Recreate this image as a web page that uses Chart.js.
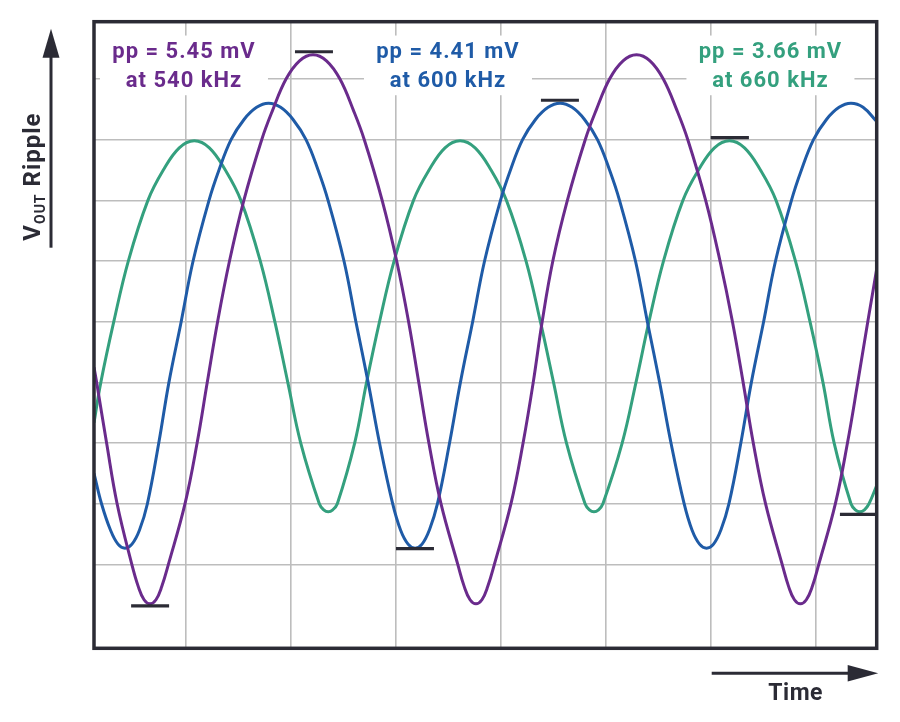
<!DOCTYPE html>
<html>
<head>
<meta charset="utf-8">
<title>VOUT ripple at three switching frequencies</title>
<script src="https://cdn.jsdelivr.net/npm/chart.js@4.4.1/dist/chart.umd.min.js"></script>
<style>
  html, body { margin: 0; padding: 0; background: #ffffff; }
  #wrap { width: 900px; height: 722px; position: relative; }
</style>
</head>
<body>
<div id="wrap"><canvas id="rippleChart"></canvas></div>
<script>
// time in ns, ripple in mV (0 = middle grid line)
const time540 = [76, 91, 148, 208, 292, 329, 362, 396, 430, 463, 501, 596, 665, 723, 782, 850, 932, 1034, 1096, 1173, 1250, 1327,
  1404, 1481, 1558, 1620, 1722, 1805, 1873, 1931, 1989, 2058, 2154, 2191, 2224, 2258,
  2292, 2325, 2363, 2458, 2527, 2585, 2636, 2697, 2780, 2882, 2944, 3021, 3098, 3175,
  3252, 3328, 3406, 3468, 3570, 3652, 3723, 3784, 3842, 3912, 4007, 4044, 4077, 4111,
  4145, 4179, 4216, 4311, 4380, 4439, 4496, 4547];
const ripple540 = [-0.45, -0.6, -1.2, -1.8, -2.4, -2.62, -2.75, -2.79, -2.75, -2.62, -2.4, -1.8, -1.2, -0.6, 0, 0.6, 1.2, 1.8, 2.09, 2.4, 2.58, 2.64,
  2.58, 2.4, 2.09, 1.8, 1.2, 0.6, 0, -0.6, -1.2, -1.8, -2.4, -2.62, -2.75, -2.79,
  -2.75, -2.62, -2.4, -1.8, -1.2, -0.6, 0, 0.6, 1.2, 1.8, 2.09, 2.4, 2.58, 2.64,
  2.58, 2.4, 2.09, 1.8, 1.2, 0.6, 0, -0.6, -1.2, -1.8, -2.4, -2.62, -2.75, -2.79,
  -2.75, -2.62, -2.4, -1.8, -1.2, -0.6, 0, 0.52];

const time600 = [76, 119, 170, 213, 253, 293, 336, 381, 446, 504, 574, 642, 733, 790, 859, 933, 1005, 1073,
  1142, 1213, 1287, 1356, 1413, 1504, 1572, 1642, 1707, 1782, 1827, 1870, 1910,
  1950, 1992, 2038, 2107, 2169, 2239, 2307, 2398, 2455, 2524, 2598, 2670, 2738,
  2807, 2878, 2952, 3021, 3078, 3169, 3237, 3307, 3372, 3447, 3492, 3535, 3575,
  3615, 3657, 3703, 3771, 3831, 3901, 3969, 4060, 4117, 4186, 4260, 4332, 4400, 4469, 4547];
const ripple600 = [-1.5, -1.8, -2.06, -2.2, -2.24, -2.2, -2.06, -1.8, -1.2, -0.6, 0, 0.6, 1.2, 1.5, 1.8, 2.0, 2.12, 2.16,
  2.12, 2.0, 1.8, 1.5, 1.2, 0.6, 0, -0.6, -1.2, -1.8, -2.06, -2.2, -2.24,
  -2.2, -2.06, -1.8, -1.2, -0.6, 0, 0.6, 1.2, 1.5, 1.8, 2.0, 2.12, 2.16,
  2.12, 2.0, 1.8, 1.5, 1.2, 0.6, 0, -0.6, -1.2, -1.8, -2.06, -2.2, -2.24,
  -2.2, -2.06, -1.8, -1.2, -0.6, 0, 0.6, 1.2, 1.5, 1.8, 2.0, 2.12, 2.16, 2.12, 1.98];

const time660 = [76, 115, 189, 272, 384, 472, 563, 649, 735, 826, 915, 1026, 1109, 1183, 1257, 1363, 1388, 1414,
  1440, 1466, 1565, 1633, 1707, 1790, 1901, 1990, 2081, 2167, 2253, 2344, 2432, 2544, 2626, 2701, 2775,
  2881, 2906, 2932, 2958, 2983, 3093, 3172, 3246, 3329, 3440, 3529, 3620, 3706, 3792, 3883, 3972, 4083, 4166, 4240,
  4304, 4400, 4425, 4451, 4477, 4503, 4547];
const ripple660 = [-1.0, -0.6, 0, 0.6, 1.2, 1.5, 1.72, 1.79, 1.72, 1.5, 1.2, 0.6, 0, -0.6, -1.2, -1.8, -1.86, -1.88,
  -1.86, -1.8, -1.2, -0.6, 0, 0.6, 1.2, 1.5, 1.72, 1.79, 1.72, 1.5, 1.2, 0.6, 0, -0.6, -1.2,
  -1.8, -1.86, -1.88, -1.86, -1.8, -1.2, -0.6, 0, 0.6, 1.2, 1.5, 1.72, 1.79, 1.72, 1.5, 1.2, 0.6, 0, -0.6,
  -1.2, -1.8, -1.86, -1.88, -1.86, -1.8, -1.62];

// short black bars marking the measured peaks and troughs
const markerStart = [288, 1224, 1801, 2629, 3599, 4337];
const markerEnd = [505, 1441, 2018, 2846, 3817, 4547];
const markerLevel = [-2.81, 2.67, -2.245, 2.19, 1.82, -1.905];

const ppLabels = ['pp = 5.45 mV', 'pp = 4.41 mV', 'pp = 3.66 mV'];
const freqLabels = ['at 540 kHz', 'at 600 kHz', 'at 660 kHz'];
const labelCenters = [590, 2098, 3940];

const xGridNs = [600, 1200, 1800, 2400, 3000, 3600, 4200];
const yGridMv = [-2.4, -1.8, -1.2, -0.6, 0, 0.6, 1.2, 1.8, 2.4];

const purple = '#6a2b8c';
const blue = '#1f5ba7';
const green = '#34a07e';
const ink = '#2b2b35';

function pts(xs, ys) {
  return xs.map((x, i) => ({ x: x, y: ys[i] }));
}

var datasets = [];
for (let i = 0; i < markerStart.length; i++) {
  datasets.push({
    data: [{ x: markerStart[i], y: markerLevel[i] }, { x: markerEnd[i], y: markerLevel[i] }],
    borderColor: ink,
    borderWidth: 3.2,
    tension: 0
  });
}
datasets.push({ data: pts(time540, ripple540), borderColor: purple, borderWidth: 3, tension: 0.4 });
datasets.push({ data: pts(time600, ripple600), borderColor: blue, borderWidth: 3, tension: 0.4 });
datasets.push({ data: pts(time660, ripple660), borderColor: green, borderWidth: 3, tension: 0.4 });

const decor = {
  id: 'decor',
  beforeDatasetsDraw(chart) {
    const ctx = chart.ctx;
    const xs = chart.scales.x, ys = chart.scales.y;
    const colors = [purple, blue, green];
    ctx.save();
    for (let i = 0; i < ppLabels.length; i++) {
      const cx = xs.getPixelForValue(labelCenters[i]);
      const top = ys.getPixelForValue(2.83);
      const bottom = ys.getPixelForValue(2.24);
      ctx.fillStyle = '#ffffff';
      ctx.fillRect(cx - 84, top, 168, bottom - top);
      ctx.fillStyle = colors[i];
      ctx.font = 'bold 22px Roboto';
      ctx.letterSpacing = '1px';
      ctx.textAlign = 'center';
      ctx.textBaseline = 'alphabetic';
      ctx.fillText(ppLabels[i], cx, ys.getPixelForValue(2.61));
      ctx.fillText(freqLabels[i], cx, ys.getPixelForValue(2.32));
    }
    ctx.restore();
  },
  afterDatasetsDraw(chart) {
    const ctx = chart.ctx, a = chart.chartArea;
    ctx.save();
    ctx.strokeStyle = ink;
    ctx.lineWidth = 3.5;
    ctx.strokeRect(a.left, a.top, a.right - a.left, a.bottom - a.top);
    ctx.restore();
  },
  afterDraw(chart) {
    const ctx = chart.ctx, a = chart.chartArea;
    ctx.save();
    ctx.strokeStyle = ink;
    ctx.fillStyle = ink;
    ctx.lineWidth = 3;
    // vertical arrow
    const ax = a.left - 43;
    ctx.beginPath();
    ctx.moveTo(ax, a.top + 226);
    ctx.lineTo(ax, a.top + 30);
    ctx.stroke();
    ctx.beginPath();
    ctx.moveTo(ax, a.top + 7);
    ctx.lineTo(ax - 8.5, a.top + 36);
    ctx.lineTo(ax + 8.5, a.top + 36);
    ctx.closePath();
    ctx.fill();
    // horizontal arrow
    const ay = a.bottom + 25;
    ctx.beginPath();
    ctx.moveTo(a.right - 165, ay);
    ctx.lineTo(a.right - 25, ay);
    ctx.stroke();
    ctx.beginPath();
    ctx.moveTo(a.right + 1.5, ay);
    ctx.lineTo(a.right - 29, ay - 8.3);
    ctx.lineTo(a.right - 29, ay + 8.3);
    ctx.closePath();
    ctx.fill();
    // axis titles
    ctx.font = 'bold 23px Roboto';
    ctx.letterSpacing = '0.5px';
    ctx.textAlign = 'center';
    ctx.textBaseline = 'alphabetic';
    ctx.fillText('Time', a.right - 81, a.bottom + 52);
    ctx.translate(a.left - 54, a.top + 219);
    ctx.rotate(-Math.PI / 2);
    ctx.textAlign = 'left';
    ctx.letterSpacing = '1px';
    ctx.font = 'bold 24px Roboto';
    ctx.fillText('V', 0, 0);
    let w = ctx.measureText('V').width;
    ctx.font = 'bold 14px Roboto';
    ctx.fillText('OUT', w, 5);
    w += ctx.measureText('OUT').width;
    ctx.font = 'bold 24px Roboto';
    ctx.fillText(' Ripple', w, 0);
    ctx.restore();
  }
};

new Chart(document.getElementById('rippleChart'), {
  type: 'line',
  data: { datasets: datasets },
  options: {
    responsive: true,
    maintainAspectRatio: false,
    animation: false,
    layout: { padding: { left: 94, right: 23.3, top: 21.7, bottom: 73.7 } },
    plugins: { legend: { display: false }, tooltip: { enabled: false } },
    elements: { point: { radius: 0 } },
    scales: {
      x: {
        type: 'linear', min: 76, max: 4547,
        afterBuildTicks: function (s) { s.ticks = xGridNs.map(v => ({ value: v })); },
        ticks: { display: false },
        border: { display: false },
        grid: { color: '#bdbdbd', lineWidth: 1.6, drawTicks: false }
      },
      y: {
        type: 'linear', min: -3.23, max: 2.967,
        afterBuildTicks: function (s) { s.ticks = yGridMv.map(v => ({ value: v })); },
        ticks: { display: false },
        border: { display: false },
        grid: { color: '#bdbdbd', lineWidth: 1.6, drawTicks: false }
      }
    }
  },
  plugins: [decor]
});
</script>
</body>
</html>
